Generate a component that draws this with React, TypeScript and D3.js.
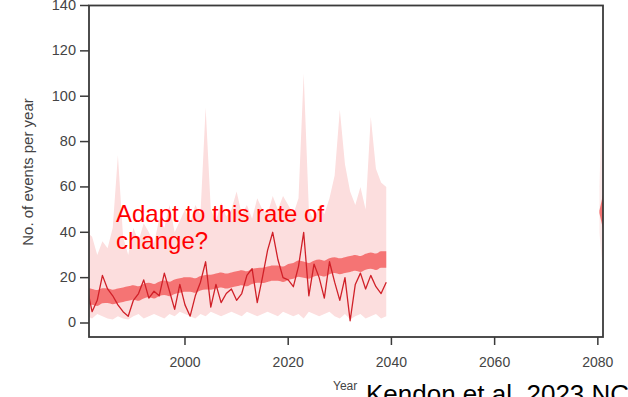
import React from "react";
import * as d3 from "d3";

const years = [1981,1982,1983,1984,1985,1986,1987,1988,1989,1990,1991,1992,1993,1994,1995,1996,1997,1998,1999,2000,2001,2002,2003,2004,2005,2006,2007,2008,2009,2010,2011,2012,2013,2014,2015,2016,2017,2018,2019,2020,2021,2022,2023,2024,2025,2026,2027,2028,2029,2030,2031,2032,2033,2034,2035,2036,2037,2038,2039];
const rangeUpper = [40,38,30,36,33,42,74,38,30,42,36,44,40,35,46,42,52,40,45,50,44,52,48,95,50,45,53,47,50,58,48,52,46,55,50,48,56,50,56,52,48,55,110,50,45,52,48,55,65,94,70,58,52,60,50,91,68,62,60];
const rangeLower = [3,2,4,3,2,1.5,3,2,1.5,3,4,2,3,4,3,2,4,3,5,4,3,2,4,3,5,4,3,4,5,4,3,5,4,3,4,5,4,3,5,4,3,4,2,5,4,3,4,5,3,2,4,1.5,3,4,2,3,4,2,3];
const ensMean = [12,11.5,11,12,12,11.5,12,12.5,13,13.5,13,14,14.5,14,15,15.5,15,16,16.5,17,17,16.5,17.5,18,18,18.5,19,18.5,19,19.5,20,19.5,20.5,21,21,21.5,22,22,21.5,22.5,23,24,23.5,23,24,24.5,24,25,25.5,25,25.5,26,26.5,26,27,27.5,27,28,28];
const ensSpread = [3.5,3.5,3.5,3.3,3.2,3.2,3.2,3.2,3.2,3.2,3.2,3.2,3.2,3.2,3.2,3.2,3.2,3.2,3.2,3.2,3.2,3.2,3.2,3.2,3.3,3.3,3.3,3.3,3.3,3.3,3.3,3.3,3.3,3.3,3.4,3.4,3.4,3.4,3.4,3.5,3.5,3.6,3.6,3.5,3.5,3.5,3.5,3.5,3.5,3.5,3.5,3.5,3.5,3.5,3.5,3.6,3.6,3.6,3.6];
const member = [16,5,10,21,15,12,8,5,3,10,13,19,11,14,12,22,14,6,17,8,3,12,18,27,7,17,9,13,15,10,13,21,24,9,20,32,40,28,20,19,16,25,40,12,26,20,11,27,18,10,20,1,17,22,15,21,16,13,18];

const lateYears = [2080.3, 2081];
const lateUpper = [60, 112];
const lateLower = [40, 22];
const lateMean = [49, 49];
const lateSpread = [0.5, 7.5];

const xTicks = [2000, 2020, 2040, 2060, 2080];
const yTicks = [0, 20, 40, 60, 80, 100, 120, 140];

export default function App() {
  const W = 628, H = 397;
  const left = 89, right = 603, top = 5.5, bottom = 337;
  const x = d3.scaleLinear().domain([1981.4, 2081]).range([left, right]);
  const y = d3.scaleLinear().domain([0, 140]).range([323, 5.5]);

  const early = years.map((yr, i) => ({ yr, lo: rangeLower[i], hi: rangeUpper[i], m: ensMean[i], s: ensSpread[i], v: member[i] }));
  const late = lateYears.map((yr, i) => ({ yr, lo: lateLower[i], hi: lateUpper[i], m: lateMean[i], s: lateSpread[i] }));

  const rangeArea = d3.area<any>().x(d => x(d.yr)).y0(d => y(d.lo)).y1(d => y(d.hi));
  const meanArea = d3.area<any>().x(d => x(d.yr)).y0(d => y(d.m - d.s)).y1(d => y(d.m + d.s)).curve(d3.curveMonotoneX);
  const line = d3.line<any>().x(d => x(d.yr)).y(d => y(d.v));

  const font = "'Liberation Sans', Arial, sans-serif";
  const axisColor = "#3a3a3a";

  return (
    <svg width={W} height={H} style={{ position: "absolute", left: 0, top: 0, background: "#fff" }} overflow="hidden">
      <defs>
        <clipPath id="plot">
          <rect x={left} y={top} width={right - left} height={bottom - top} />
        </clipPath>
      </defs>
      <g clipPath="url(#plot)">
        <path d={rangeArea(early) || ""} fill="#fcdede" />
        <path d={rangeArea(late) || ""} fill="#fcdede" opacity={0.6} />
        <path d={meanArea(early) || ""} fill="#f46a6a" opacity={0.92} />
        <path d={meanArea(late) || ""} fill="#f46a6a" opacity={0.92} />
        <path d={line(early) || ""} fill="none" stroke="#d02028" strokeWidth={1.3} strokeLinejoin="round" />
      </g>
      <rect x={left} y={top} width={right - left} height={bottom - top} fill="none" stroke={axisColor} strokeWidth={1.8} />
      {yTicks.map(t => (
        <g key={"y" + t}>
          <line x1={left - 9} x2={left} y1={y(t)} y2={y(t)} stroke={axisColor} strokeWidth={1.5} />
          <text x={left - 13} y={y(t)} dy="0.3em" textAnchor="end" fontFamily={font} fontSize={14.5} fill="#444">{t}</text>
        </g>
      ))}
      {xTicks.map(t => (
        <g key={"x" + t}>
          <line x1={x(t)} x2={x(t)} y1={bottom} y2={bottom + 8} stroke={axisColor} strokeWidth={1.5} />
          <text x={x(t)} y={367} textAnchor="middle" fontFamily={font} fontSize={14} fill="#444">{t}</text>
        </g>
      ))}
      <text transform={`translate(33,172) rotate(-90)`} textAnchor="middle" fontFamily={font} fontSize={15} fill="#444">No. of events per year</text>
      <text x={333} y={390} fontFamily={font} fontSize={12} fill="#444">Year</text>
      <text x={366} y={403} fontFamily={font} fontSize={26} fill="#000">Kendon et al. 2023 NCC</text>
      <text fontFamily={font} fontSize={24} fill="#ff0000">
        <tspan x={116} y={222}>Adapt to this rate of</tspan>
        <tspan x={116} y={249}>change?</tspan>
      </text>
    </svg>
  );
}
